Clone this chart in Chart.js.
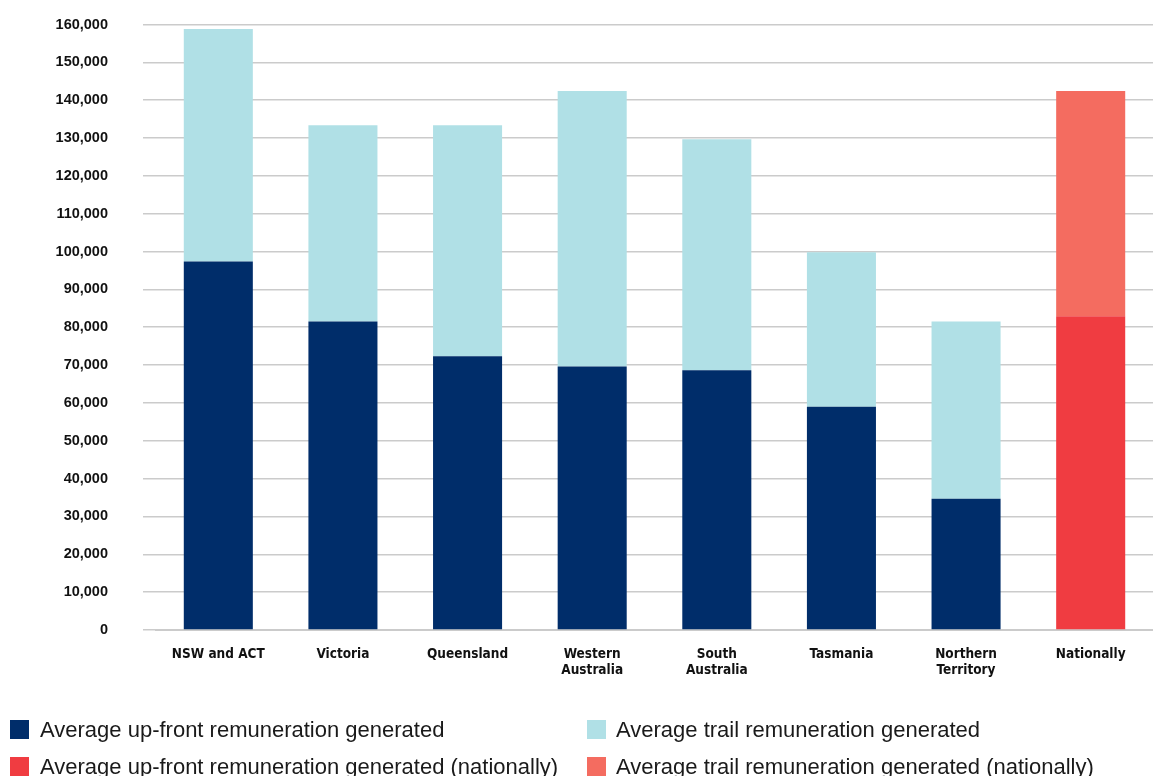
<!DOCTYPE html>
<html>
<head>
<meta charset="utf-8">
<script src="https://cdn.jsdelivr.net/npm/chart.js@4.4.1/dist/chart.umd.min.js"></script>
<style>
  html, body { margin: 0; padding: 0; background: #ffffff; }
  #wrap { position: relative; width: 1153px; height: 776px; overflow: hidden; }
  #chart { position: absolute; left: 0; top: 0; }
  #legend { position: absolute; left: 0; top: 0; width: 1153px; height: 776px; pointer-events: none; }
  .item { position: absolute; font-family: "Liberation Sans", Arial, sans-serif; font-size: 22px; color: #1a1a1a; white-space: nowrap; line-height: 26px; }
  .box { position: absolute; width: 19px; height: 19px; }
</style>
</head>
<body>
<div id="wrap">
  <canvas id="chart" width="1153" height="700"></canvas>
  <div id="legend"></div>
</div>
<script>
// Regions shown along the bottom axis
const categories = [
  'NSW and ACT', 'Victoria', 'Queensland', ['Western', 'Australia'],
  ['South', 'Australia'], 'Tasmania', ['Northern', 'Territory'], 'Nationally'
];

// Average remuneration per adviser, by state ($)
const upfrontState = [97400, 81500, 72300, 69600, 68600, 59000, 34700, null];
const trailState   = [61400, 51900, 61100, 72800, 61100, 40800, 46800, null];

// National averages ($)
const upfrontNational = [null, null, null, null, null, null, null, 82900];
const trailNational   = [null, null, null, null, null, null, null, 59500];

// Value axis range
const yMax = 160000;
const yStep = 10000;

const seriesNames = [
  'Average up-front remuneration generated',
  'Average trail remuneration generated',
  'Average up-front remuneration generated (nationally)',
  'Average trail remuneration generated (nationally)'
];
const seriesColours = ['#002D6A', '#B0E0E6', '#F03C41', '#F46C60'];

const gridColour = '#cbcbcb';
const tickFont = { family: '"Liberation Sans", Arial, sans-serif', size: 14.5, weight: 'bold' };
const catFont = { family: '"Liberation Sans Narrow", "DejaVu Sans Condensed", "Roboto Condensed", sans-serif', size: 13.5, weight: 'bold', lineHeight: 1.15 };

const chart = new Chart(document.getElementById('chart'), {
  type: 'bar',
  data: {
    labels: categories,
    datasets: [
      { label: seriesNames[0], data: upfrontState, backgroundColor: seriesColours[0] },
      { label: seriesNames[1], data: trailState, backgroundColor: seriesColours[1] },
      { label: seriesNames[2], data: upfrontNational, backgroundColor: seriesColours[2] },
      { label: seriesNames[3], data: trailNational, backgroundColor: seriesColours[3] }
    ]
  },
  options: {
    responsive: false,
    animation: false,
    layout: { padding: { top: 24.5, right: 0, left: 0, bottom: 13 } },
    datasets: { bar: { categoryPercentage: 1, barPercentage: 0.554, borderWidth: 0 } },
    plugins: { legend: { display: false }, tooltip: { enabled: false } },
    scales: {
      x: {
        stacked: true,
        grid: { display: false },
        border: { display: true, color: gridColour, width: 2 },
        ticks: { color: '#111111', font: catFont, padding: 9, maxRotation: 0, autoSkip: false }
      },
      y: {
        stacked: true,
        min: 0,
        max: yMax,
        afterFit: (scale) => {
          // fixed gutter for the value labels; keep the wide label gap out of the vertical padding
          scale.width = 156;
          scale.paddingTop = 0;
          scale.paddingBottom = 0;
        },
        grid: { color: gridColour, lineWidth: 1.5, tickLength: 13, drawTicks: true },
        border: { display: false },
        ticks: {
          stepSize: yStep,
          padding: 35,
          color: '#111111',
          font: tickFont,
          callback: (v) => v.toLocaleString('en-AU')
        }
      }
    }
  }
});

// Two-column legend below the plot, built from the datasets
const legendPos = [[10, 40, 729], [587, 616, 729], [10, 40, 766], [587, 616, 766]];
const legendEl = document.getElementById('legend');
chart.data.datasets.forEach((ds, i) => {
  const [bx, tx, cy] = legendPos[i];
  const box = document.createElement('div');
  box.className = 'box';
  box.style.left = bx + 'px';
  box.style.top = (cy - 9.5) + 'px';
  box.style.background = ds.backgroundColor;
  const txt = document.createElement('div');
  txt.className = 'item';
  txt.style.left = tx + 'px';
  txt.style.top = (cy - 12) + 'px';
  txt.textContent = ds.label;
  legendEl.appendChild(box);
  legendEl.appendChild(txt);
});
</script>
</body>
</html>
